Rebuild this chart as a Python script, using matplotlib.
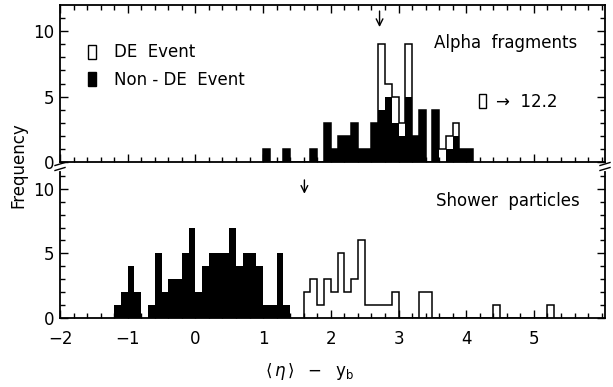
import matplotlib.pyplot as plt
import numpy as np
from matplotlib.patches import Patch
from matplotlib.lines import Line2D

# --- data (counts per 0.1 bin) ---
bin_width = 0.1

# Alpha fragments, bins starting at 1.0
alpha_start = 1.0
alpha_nonde = [1, 0, 0, 1, 0, 0, 0, 1, 0, 3, 1, 2, 2, 3, 1, 1, 3, 4, 5, 3,
               2, 5, 2, 4, 0, 4, 0, 1, 2, 1, 1]
alpha_de = [0, 0, 0, 0, 0, 0, 0, 0, 0, 0, 0, 0, 0, 0, 0, 0, 0, 5, 1, 2,
            1, 4, 0, 0, 0, 0, 1, 1, 1, 0, 0]

# Shower particles, non-DE bins starting at -1.2, DE bins starting at 1.6
shower_nonde_start = -1.2
shower_nonde = [1, 2, 4, 2, 0, 1, 5, 2, 3, 3, 5, 7, 2, 4, 5, 5, 5, 7, 4, 5,
                5, 4, 1, 1, 5, 1]
shower_de_start = 1.6
shower_de = [2, 3, 1, 3, 2, 5, 2, 3, 6, 1, 1, 1, 1, 2, 0, 0, 0, 2, 2,
             0, 0, 0, 0, 0, 0, 0, 0, 0, 1, 0, 0, 0, 0, 0, 0, 0, 1]

alpha_mean = 2.72
shower_mean = 1.61

xticks = [-2, -1, 0, 1, 2, 3, 4, 5]
yticks = [0, 5, 10]


def edges(start, counts):
    return np.round(start + bin_width * np.arange(len(counts) + 1), 2)


plt.rcParams['font.family'] = 'DejaVu Sans'
plt.rcParams['font.size'] = 12

fig = plt.figure(figsize=(6.13, 3.87), dpi=100)
W, H = 613.0, 387.0
ax1 = fig.add_axes([60 / W, 1 - 162 / H, 545 / W, 157 / H])
ax2 = fig.add_axes([60 / W, 1 - 318 / H, 545 / W, 146 / H])

for ax in (ax1, ax2):
    ax.set_xlim(-2.0, 6.05)
    ax.set_xticks(xticks)
    ax.set_xticks(np.round(np.arange(-2, 6.01, 0.2), 1), minor=True)
    ax.set_yticks(yticks)
    ax.set_yticks(range(0, 12), minor=True)
    ax.tick_params(which='both', direction='in', top=True, right=True,
                   width=1.0, labelsize=12, pad=4)
    ax.tick_params(which='major', length=6)
    ax.tick_params(which='minor', length=3.5)
    for s in ax.spines.values():
        s.set_linewidth(1.3)

ax1.set_ylim(0, 12)
ax1.tick_params(labelbottom=False)
ax2.set_ylim(0, 11.3)
ax2.spines['top'].set_visible(False)
ax2.tick_params(top=False, which='both')
ax2.tick_params(axis='x', pad=9)

# upper panel: alpha fragments
e = edges(alpha_start, alpha_nonde)
total = np.array(alpha_nonde) + np.array(alpha_de)
ax1.stairs(alpha_nonde, e, fill=True, color='black')
ax1.stairs(total, e, color='black', lw=1.1)

# lower panel: shower particles
ax2.stairs(shower_nonde, edges(shower_nonde_start, shower_nonde),
           fill=True, color='black')
ax2.stairs(shower_de, edges(shower_de_start, shower_de), color='black', lw=1.1)

# mean arrows
ax1.annotate('', xy=(alpha_mean, 10.1), xytext=(alpha_mean, 11.75),
             arrowprops=dict(arrowstyle='->', lw=1.0, color='black'))
ax2.annotate('', xy=(shower_mean, 9.4), xytext=(shower_mean, 10.9),
             arrowprops=dict(arrowstyle='->', lw=1.0, color='black'))

# labels
ax1.text(0.818, 0.755, 'Alpha  fragments', transform=ax1.transAxes,
         ha='center', va='center', fontsize=12)
ax2.text(0.822, 0.80, 'Shower  particles', transform=ax2.transAxes,
         ha='center', va='center', fontsize=12)

handles = [Patch(facecolor='white', edgecolor='black', lw=1.0),
           Patch(facecolor='black', edgecolor='black', lw=1.0)]
leg = ax1.legend(handles, ['DE  Event', 'Non - DE  Event'], loc='upper left',
                 bbox_to_anchor=(0.052, 0.755), frameon=False, borderpad=0,
                 borderaxespad=0, handlelength=0.45, handleheight=0.9,
                 handletextpad=1.1, labelspacing=0.55, fontsize=12)
ax1.add_artist(leg)

# off-scale DE entry
ax1.legend([Patch(facecolor='white', edgecolor='black', lw=1.0)],
           ['\u2192  12.2'], loc='upper left', bbox_to_anchor=(0.768, 0.44),
           frameon=False, borderpad=0, borderaxespad=0, handlelength=0.45,
           handleheight=0.9, handletextpad=0.6, fontsize=12)

fig.text(18 / W, 1 - 165 / H, 'Frequency', rotation=90, ha='center',
         va='center', fontsize=12)
fig.text(310 / W, 1 - 372 / H,
         r'$\langle\,\eta\,\rangle\ \ -\ \ \mathrm{y}_{\mathrm{b}}$',
         ha='center', va='center', fontsize=12)

# axis break marks
for x in (60 / W, 605 / W):
    for y in (164, 169):
        fig.add_artist(Line2D([x - 5 / W, x + 5 / W],
                              [1 - (y + 1.5) / H, 1 - (y - 1.5) / H],
                              transform=fig.transFigure, color='black', lw=1.0))

fig.savefig('out.png', dpi=100)
